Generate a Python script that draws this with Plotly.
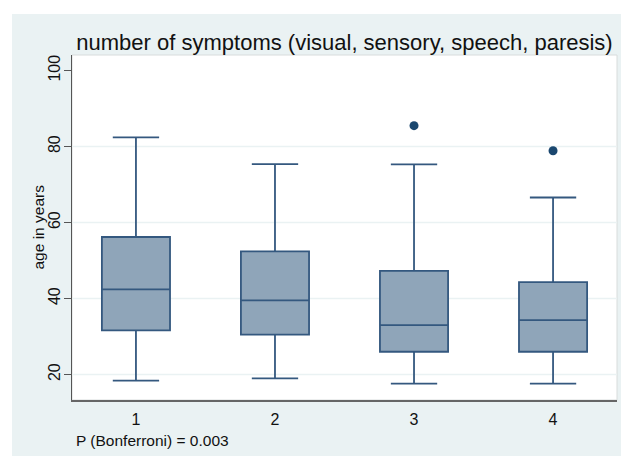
import plotly.graph_objects as go

# ---- data ----
categories = [1, 2, 3, 4]
tick_labels = ["1", "2", "3", "4"]
lower_whisker = [18.4, 19.0, 17.6, 17.6]
q1_values = [31.6, 30.5, 26.0, 26.0]
median_values = [42.4, 39.5, 33.0, 34.3]
q3_values = [56.2, 52.4, 47.3, 44.3]
upper_whisker = [82.4, 75.4, 75.3, 66.6]
outlier_x = [3, 4]
outlier_y = [85.5, 78.9]
y_ticks = [20, 40, 60, 80, 100]
grid_values = [20, 40, 60, 80]

title_text = "number of symptoms (visual, sensory, speech, paresis)"
y_title = "age in years"
note_text = "P (Bonferroni) = 0.003"

W, H = 621, 456
L, R, T, B = 72, 4, 55, 56
pw = W - L - R
ph = H - T - B

BG = "#eaf2f3"
LINE = "#34587f"
FILL = "#8fa5b9"
NAVY = "#1a476f"
FONT = "Liberation Sans, Arial, sans-serif"

fig = go.Figure()
fig.add_trace(go.Box(
    x=categories,
    q1=q1_values,
    median=median_values,
    q3=q3_values,
    lowerfence=lower_whisker,
    upperfence=upper_whisker,
    width=0.49,
    whiskerwidth=0.68,
    fillcolor=FILL,
    line=dict(color=LINE, width=1.8),
    boxpoints=False,
    showlegend=False,
    hoverinfo="skip",
))
fig.add_trace(go.Scatter(
    x=outlier_x, y=outlier_y, mode="markers",
    marker=dict(color=NAVY, size=9),
    showlegend=False, hoverinfo="skip",
))

shapes = [
    # graph region background
    dict(type="rect", xref="paper", yref="paper",
         x0=(12 - L) / pw, x1=(W + 5 - L) / pw,
         y0=-(B + 10) / ph, y1=1 + (T - 14) / ph,
         fillcolor=BG, line=dict(width=0), layer="below"),
    # white plot region
    dict(type="rect", xref="paper", yref="paper", x0=0, x1=1, y0=0, y1=1,
         fillcolor="white", line=dict(color="#d8dcdc", width=1), layer="below"),
]
for g in grid_values:
    shapes.append(dict(type="line", xref="paper", yref="y", x0=0, x1=1, y0=g, y1=g,
                       line=dict(color=BG, width=1.5), layer="below"))

fig.update_layout(
    width=W, height=H,
    margin=dict(l=L, r=R, t=T, b=B, autoexpand=False),
    paper_bgcolor="white",
    plot_bgcolor="white",
    font=dict(family=FONT, color="#111111"),
    shapes=shapes,
    title=dict(text=title_text, font=dict(size=22, family=FONT, color="#111111"),
               xref="paper", x=0.5, xanchor="center",
               yref="container", y=1 - 42 / H, yanchor="middle"),
    xaxis=dict(range=[0.54, 4.46], tickvals=categories, ticktext=tick_labels,
               showgrid=False, zeroline=False, showline=True, linecolor="#666666",
               linewidth=2, ticks="outside", ticklen=4, tickcolor="rgba(0,0,0,0)",
               tickfont=dict(size=16, family=FONT, color="#111111")),
    yaxis=dict(range=[13.3, 104.1], tickvals=y_ticks, showgrid=False, zeroline=False,
               showline=True, linecolor="#555555", linewidth=1,
               ticks="outside", ticklen=7, tickcolor="#555555", tickangle=-90,
               ticklabelstandoff=-2,
               tickfont=dict(size=16, family=FONT, color="#111111")),
    annotations=[
        dict(text=note_text, xref="paper", yref="paper",
             x=(74 - L) / pw, y=-(440 - 400) / ph,
             xanchor="left", yanchor="middle", showarrow=False,
             font=dict(size=15.5, family=FONT, color="#111111")),
        dict(text=y_title, xref="paper", yref="paper",
             x=(38 - L) / pw, y=0.5, textangle=-90,
             xanchor="center", yanchor="middle", showarrow=False,
             font=dict(size=15.5, family=FONT, color="#111111")),
    ],
)

fig.write_html("out.html", config={"displayModeBar": False},
               post_script="document.body.style.margin='0';document.body.style.overflow='hidden';")
